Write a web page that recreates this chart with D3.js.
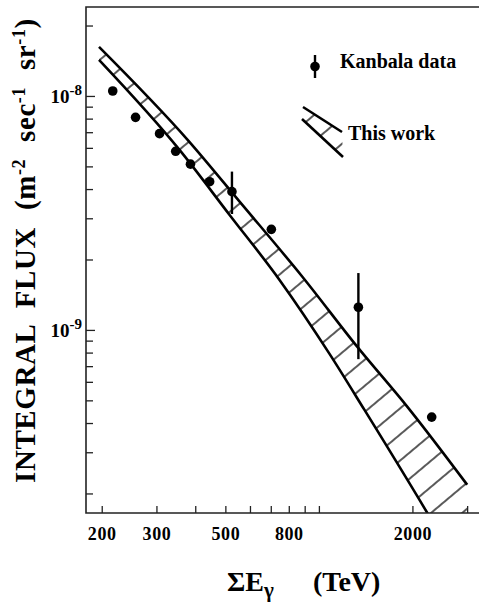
<!DOCTYPE html>
<html lang="en">
<head>
  <meta charset="UTF-8">
  <title>Integral flux</title>
  <script src="https://d3js.org/d3.v7.min.js"></script>
  <style>
    body { margin: 0; background: white; }
    svg { display: block; font-family: "Liberation Serif", "Times New Roman", serif; font-weight: bold; }
    .band { fill: none; stroke: black; stroke-width: 2.6px; }
    .frame { stroke: #222; stroke-width: 1.6px; fill: none; }
    .tick line { stroke: #222; stroke-width: 1.3px; }
    .tick text { font-size: 18px; fill: black; }
  </style>
</head>
<body>
<svg id="svg" width="479" height="604"></svg>
<script>
// Kanbala data points
const kanbalaE = [217, 257, 307, 346, 386, 445, 525, 703, 1340, 2307];
const kanbalaFlux = [1.05e-8, 8.1e-9, 6.9e-9, 5.8e-9, 5.11e-9, 4.3e-9, 3.9e-9, 2.69e-9, 1.25e-9, 4.24e-10];
// error bars (only two points have them)
const errE = [525, 1340];
const errLow = [3.13e-9, 7.5e-10];
const errHigh = [4.75e-9, 1.75e-9];

// "This work" band edges
const upperE = [196, 378, 560, 886, 1332, 1927, 3000];
const upperFlux = [1.62e-8, 6.49e-9, 3.49e-9, 1.684e-9, 8.44e-10, 4.69e-10, 2.18e-10];
const lowerE = [196, 356, 516, 747, 1082, 1402, 2234, 3000];
const lowerFlux = [1.426e-8, 5.88e-9, 3.1e-9, 1.636e-9, 7.9e-10, 4.55e-10, 1.65e-10, 8.5e-11];

// ticks
const xTicks = [200, 300, 400, 500, 600, 700, 800, 900, 1000, 2000, 3000];
const xLabels = [200, 300, 500, 800, 2000];
const yTicks = [2e-10, 3e-10, 4e-10, 5e-10, 6e-10, 7e-10, 8e-10, 9e-10,
  1e-9, 2e-9, 3e-9, 4e-9, 5e-9, 6e-9, 7e-9, 8e-9, 9e-9, 1e-8, 2e-8];
const yMajor = [1e-9, 1e-8];
const yMajorExp = ["-9", "-8"];

const pLeft = 86, pRight = 480, pTop = 7, pBottom = 513;

const x = d3.scaleLog().domain([178, 3300]).range([pLeft, pRight]);
const y = d3.scaleLog().domain([1.65e-10, 2.4e-8]).range([pBottom, pTop]);

const svg = d3.select("#svg");
const defs = svg.append("defs");

defs.append("clipPath").attr("id", "plotclip")
  .append("rect").attr("x", pLeft).attr("y", pTop)
  .attr("width", pRight - pLeft).attr("height", pBottom - pTop);

const hatch = defs.append("pattern").attr("id", "hatch")
  .attr("patternUnits", "userSpaceOnUse")
  .attr("width", 20).attr("height", 20)
  .attr("patternTransform", "rotate(-40)");
hatch.append("line").attr("x1", 0).attr("x2", 20).attr("y1", 10).attr("y2", 10)
  .attr("stroke", "#000").attr("stroke-width", 1.3);

const upper = upperE.map((e, i) => [x(e), y(upperFlux[i])]);
const lower = lowerE.map((e, i) => [x(e), y(lowerFlux[i])]);
const line = d3.line().curve(d3.curveMonotoneX);

const plot = svg.append("g").attr("clip-path", "url(#plotclip)");

// hatched area between the two edges
const bandPath = line(upper) + "L" + line(lower.slice().reverse()).slice(1) + "Z";
plot.append("path").attr("d", bandPath).attr("fill", "url(#hatch)").attr("stroke", "none");
plot.append("path").attr("class", "band").attr("d", line(upper));
plot.append("path").attr("class", "band").attr("d", line(lower));

// error bars
plot.selectAll(".err").data(errE).join("line")
  .attr("class", "err")
  .attr("x1", d => x(d)).attr("x2", d => x(d))
  .attr("y1", (d, i) => y(errHigh[i])).attr("y2", (d, i) => y(errLow[i]))
  .attr("stroke", "black").attr("stroke-width", 2.4);

plot.selectAll(".pt").data(kanbalaE).join("circle")
  .attr("class", "pt")
  .attr("cx", d => x(d)).attr("cy", (d, i) => y(kanbalaFlux[i]))
  .attr("r", 4.8).attr("fill", "black");

// frame
svg.append("path").attr("class", "frame")
  .attr("d", `M${pRight},${pTop}H${pLeft}V${pBottom}H${pRight}`);

// x axis
const xAxis = d3.axisBottom(x).tickValues(xTicks)
  .tickSizeInner(-7).tickSizeOuter(0).tickPadding(14)
  .tickFormat(d => xLabels.includes(d) ? d : "");
const gx = svg.append("g").attr("transform", `translate(0,${pBottom})`).call(xAxis)
  .attr("font-family", null).attr("font-size", null);
gx.select(".domain").remove();
gx.selectAll(".tick text").attr("letter-spacing", "0.6px");

// y axis
const yAxis = d3.axisLeft(y).tickValues(yTicks)
  .tickSizeOuter(0).tickFormat("")
  .tickSizeInner(-7);
const gy = svg.append("g").attr("transform", `translate(${pLeft},0)`).call(yAxis);
gy.select(".domain").remove();
gy.selectAll(".tick line").attr("x2", d => yMajor.includes(d) ? 9 : 7);

const ylab = svg.append("g").selectAll("text").data(yMajor).join("text")
  .attr("x", 82).attr("y", d => y(d) + 7)
  .attr("text-anchor", "end").attr("font-size", 19);
ylab.append("tspan").text("10");
ylab.append("tspan").attr("dy", -8).attr("font-size", 15).text((d, i) => yMajorExp[i]);

// axis titles
const xt = svg.append("text").attr("x", 227).attr("y", 591).attr("font-size", 28);
xt.append("tspan").text("ΣE");
xt.append("tspan").attr("dy", 6).attr("font-size", 21).text("γ");
xt.append("tspan").attr("x", 313).attr("dy", -6).text("(TeV)");

const yt = svg.append("text").attr("transform", "translate(35,483) rotate(-90)")
  .attr("font-size", 29).attr("letter-spacing", "0.6px").attr("word-spacing", "9px");
yt.append("tspan").text("INTEGRAL FLUX  (m");
yt.append("tspan").attr("dy", -10).attr("font-size", 18).text("-2");
yt.append("tspan").attr("dy", 10).text(" sec");
yt.append("tspan").attr("dy", -10).attr("font-size", 18).text("-1");
yt.append("tspan").attr("dy", 10).text(" sr");
yt.append("tspan").attr("dy", -10).attr("font-size", 18).text("-1");
yt.append("tspan").attr("dy", 10).text(")");

// legend
const lg = svg.append("g");
lg.append("line").attr("x1", 315).attr("x2", 315).attr("y1", 55).attr("y2", 78)
  .attr("stroke", "black").attr("stroke-width", 2.4);
lg.append("circle").attr("cx", 315).attr("cy", 66.5).attr("r", 4.8);
lg.append("text").attr("x", 340).attr("y", 68).attr("font-size", 20).text("Kanbala data");

lg.append("path").attr("d", "M303,107L342,132L343,157L302,119Z")
  .attr("fill", "url(#hatch)");
lg.append("path").attr("class", "band").attr("d", "M303,107L342,132");
lg.append("path").attr("class", "band").attr("d", "M302,119L343,157");
lg.append("text").attr("x", 348).attr("y", 140).attr("font-size", 20).text("This work");
</script>
</body>
</html>
